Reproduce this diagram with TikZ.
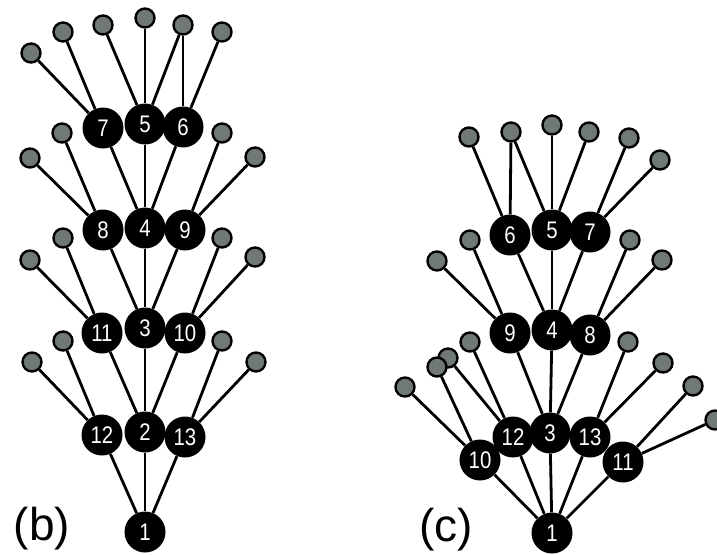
\documentclass[tikz,border=0pt]{standalone}
\usepackage{fontspec}
\setmainfont{Liberation Sans}
\newfontfamily\numfont[FakeStretch=0.85]{Liberation Sans}
\definecolor{leafgray}{RGB}{112,120,120}
\tikzset{
  nd/.style={circle, fill=black, minimum size=41pt, inner sep=0pt, text=white,
    font=\numfont\fontsize{24}{24}\selectfont},
  lf/.style={circle, fill=leafgray, draw=black, line width=2.4pt, minimum size=19pt, inner sep=0pt},
  ed/.style={line width=2.8pt, black},
  lbl/.style={font=\fontsize{46}{46}\selectfont, inner sep=0pt}
}
\begin{document}
\begin{tikzpicture}[x=1pt,y=-1pt]
\useasboundingbox (0,0) rectangle (717,554);
% ---------- tree (b) ----------
\node[nd] (b7) at (103,128) {7};
\node[nd] (b5) at (145,124) {5};
\node[nd] (b6) at (183,127) {6};
\node[nd] (b8) at (103,230) {8};
\node[nd] (b4) at (145,228) {4};
\node[nd] (b9) at (185,230) {9};
\node[nd] (b11) at (102,333) {11};
\node[nd] (b3) at (145,328) {3};
\node[nd] (b10) at (185,333) {10};
\node[nd] (b12) at (102,435) {12};
\node[nd] (b2) at (145,432) {2};
\node[nd] (b13) at (185,437) {13};
\node[nd] (b1) at (145,532) {1};
\node[lf] (ba1) at (31,53) {};
\node[lf] (ba2) at (63,32) {};
\node[lf] (ba3) at (103,25) {};
\node[lf] (ba4) at (145,18) {};
\node[lf] (ba5) at (183,25) {};
\node[lf] (ba6) at (222,32) {};
\node[lf] (bb1) at (30,158) {};
\node[lf] (bb2) at (62,133) {};
\node[lf] (bb3) at (222,133) {};
\node[lf] (bb4) at (255,157) {};
\node[lf] (bc1) at (30,260) {};
\node[lf] (bc2) at (63,238) {};
\node[lf] (bc3) at (222,238) {};
\node[lf] (bc4) at (255,257) {};
\node[lf] (bd1) at (32,362) {};
\node[lf] (bd2) at (63,341) {};
\node[lf] (bd3) at (222,341) {};
\node[lf] (bd4) at (256,362) {};
\draw[ed] (ba1) -- (b7); \draw[ed] (ba2) -- (b7);
\draw[ed] (ba3) -- (b5); \draw[ed] (ba4) -- (b5);
\draw[ed] (ba5) -- (b5); \draw[ed] (ba5) -- (b6);
\draw[ed] (ba6) -- (b6);
\draw[ed] (bb1) -- (b8); \draw[ed] (bb2) -- (b8);
\draw[ed] (bb3) -- (b9); \draw[ed] (bb4) -- (b9);
\draw[ed] (bc1) -- (b11); \draw[ed] (bc2) -- (b11);
\draw[ed] (bc3) -- (b10); \draw[ed] (bc4) -- (b10);
\draw[ed] (bd1) -- (b12); \draw[ed] (bd2) -- (b12);
\draw[ed] (bd3) -- (b13); \draw[ed] (bd4) -- (b13);
\draw[ed] (b7) -- (b4); \draw[ed] (b5) -- (b4); \draw[ed] (b6) -- (b4);
\draw[ed] (b8) -- (b3); \draw[ed] (b4) -- (b3); \draw[ed] (b9) -- (b3);
\draw[ed] (b11) -- (b2); \draw[ed] (b3) -- (b2); \draw[ed] (b10) -- (b2);
\draw[ed] (b12) -- (b1); \draw[ed] (b2) -- (b1); \draw[ed] (b13) -- (b1);
\node[lbl] (lb) at (42,529) {(b)};
% ---------- tree (c) ----------
\node[nd] (c6) at (510,235) {6};
\node[nd] (c5) at (552,230) {5};
\node[nd] (c7) at (590,232) {7};
\node[nd] (c9) at (510,333) {9};
\node[nd] (c4) at (552,330) {4};
\node[nd] (c8) at (590,335) {8};
\node[nd] (c10) at (480,460) {10};
\node[nd] (c12) at (513,437) {12};
\node[nd] (c3) at (550,433) {3};
\node[nd] (c13) at (590,437) {13};
\node[nd] (c11) at (623,462) {11};
\node[nd] (c1) at (552,533) {1};
\node[lf] (ca1) at (469,137) {};
\node[lf] (ca2) at (511,132) {};
\node[lf] (ca3) at (552,125) {};
\node[lf] (ca4) at (589,132) {};
\node[lf] (ca5) at (629,138) {};
\node[lf] (ca6) at (660,160) {};
\node[lf] (cb1) at (437,261) {};
\node[lf] (cb2) at (470,240) {};
\node[lf] (cb3) at (630,240) {};
\node[lf] (cb4) at (662,260) {};
\node[lf] (cc1) at (470,342) {};
\node[lf] (cc2) at (448,358) {};
\node[lf] (cc3) at (437,367) {};
\node[lf] (cc4) at (405,387) {};
\node[lf] (cc5) at (628,342) {};
\node[lf] (cc6) at (663,363) {};
\node[lf] (cc7) at (693,386) {};
\node[lf] (cc8) at (715,420) {};
\draw[ed] (ca1) -- (c6); \draw[ed] (ca2) -- (c6); \draw[ed] (ca2) -- (c5);
\draw[ed] (ca3) -- (c5); \draw[ed] (ca4) -- (c5);
\draw[ed] (ca5) -- (c7); \draw[ed] (ca6) -- (c7);
\draw[ed] (cb1) -- (c9); \draw[ed] (cb2) -- (c9);
\draw[ed] (cb3) -- (c8); \draw[ed] (cb4) -- (c8);
\draw[ed] (cc1) -- (c12); \draw[ed] (cc2) -- (c12);
\draw[ed] (cc3) -- (c10); \draw[ed] (cc4) -- (c10);
\draw[ed] (cc5) -- (c13); \draw[ed] (cc6) -- (c13);
\draw[ed] (cc7) -- (c11); \draw[ed] (cc8) -- (c11);
\draw[ed] (c6) -- (c4); \draw[ed] (c5) -- (c4); \draw[ed] (c7) -- (c4);
\draw[ed] (c9) -- (c3); \draw[ed] (c4) -- (c3); \draw[ed] (c8) -- (c3);
\draw[ed] (c10) -- (c1); \draw[ed] (c12) -- (c1); \draw[ed] (c3) -- (c1);
\draw[ed] (c13) -- (c1); \draw[ed] (c11) -- (c1);
\node[lbl] (lc) at (446,530) {(c)};
\end{tikzpicture}
\end{document}
